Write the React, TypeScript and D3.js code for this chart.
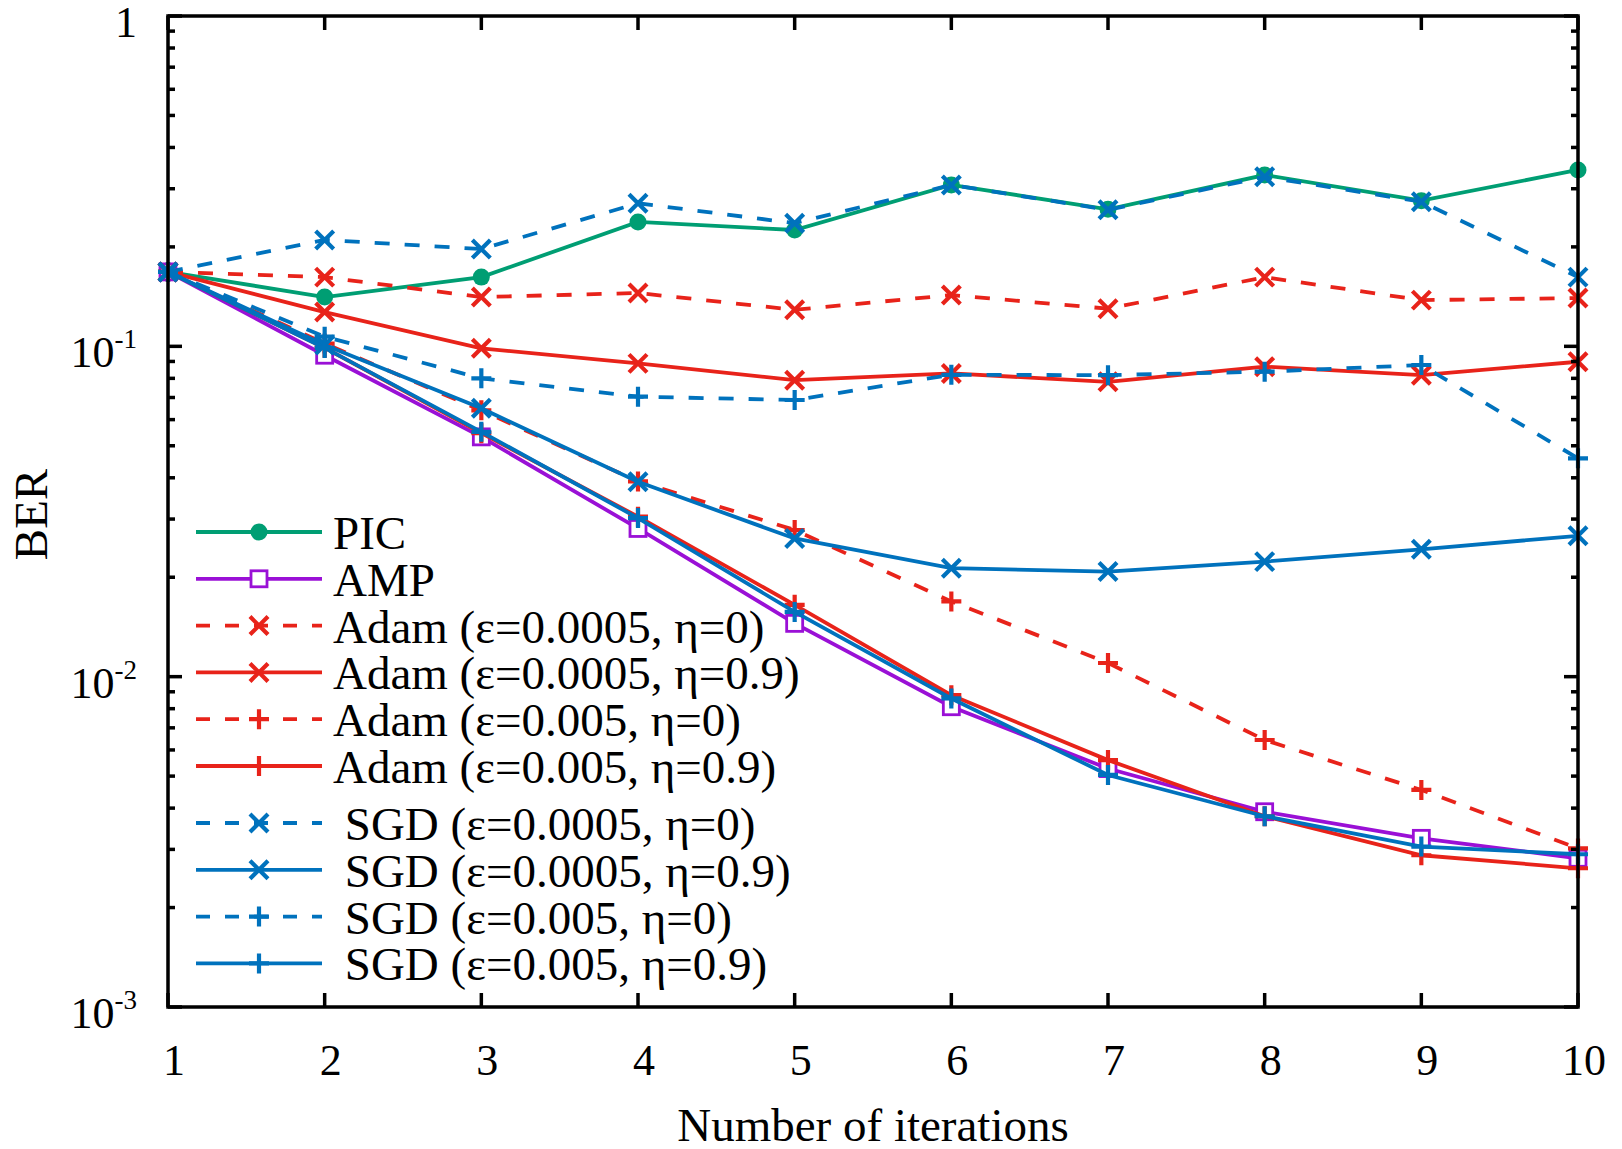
import React from 'react';
import * as d3 from 'd3';

// iteration index on the x axis
const iterations = [1, 2, 3, 4, 5, 6, 7, 8, 9, 10];

// BER values
const picBer = [0.168, 0.141, 0.162, 0.238, 0.225, 0.308, 0.26, 0.33, 0.276, 0.342];
const ampBer = [0.168, 0.094, 0.0532, 0.0281, 0.0145, 0.00811, 0.00527, 0.0039, 0.00324, 0.00282];
const adamE4Eta0 = [0.168, 0.162, 0.141, 0.145, 0.129, 0.143, 0.13, 0.162, 0.138, 0.14];
const adamE4Eta9 = [0.168, 0.127, 0.0986, 0.0888, 0.079, 0.0828, 0.0781, 0.0868, 0.0818, 0.0898];
const adamE3Eta0 = [0.168, 0.102, 0.064, 0.039, 0.0278, 0.0169, 0.011, 0.00643, 0.00454, 0.00302];
const adamE3Eta9 = [0.168, 0.099, 0.0546, 0.0305, 0.0165, 0.00879, 0.00559, 0.00378, 0.00288, 0.00263];
const sgdE4Eta0 = [0.168, 0.21, 0.197, 0.271, 0.236, 0.308, 0.259, 0.326, 0.274, 0.162];
const sgdE4Eta9 = [0.168, 0.101, 0.0649, 0.0389, 0.0262, 0.0213, 0.0208, 0.0223, 0.0243, 0.0267];
const sgdE3Eta0 = [0.168, 0.107, 0.08, 0.0704, 0.0688, 0.082, 0.0818, 0.0838, 0.0878, 0.0458];
const sgdE3Eta9 = [0.168, 0.0989, 0.0551, 0.0302, 0.0157, 0.00859, 0.00504, 0.00378, 0.00306, 0.0029];

const yTickExponents = [0, -1, -2, -3];

const GREEN = '#009e73';
const PURPLE = '#9a10d6';
const RED = '#e8231a';
const BLUE = '#0072bd';

// legend order == draw order
const series = [
  { label: 'PIC', values: picBer, color: GREEN, dashed: false, marker: 'circle' },
  { label: 'AMP', values: ampBer, color: PURPLE, dashed: false, marker: 'square' },
  { label: 'Adam (ε=0.0005, η=0)', values: adamE4Eta0, color: RED, dashed: true, marker: 'x' },
  { label: 'Adam (ε=0.0005, η=0.9)', values: adamE4Eta9, color: RED, dashed: false, marker: 'x' },
  { label: 'Adam (ε=0.005, η=0)', values: adamE3Eta0, color: RED, dashed: true, marker: 'plus' },
  { label: 'Adam (ε=0.005, η=0.9)', values: adamE3Eta9, color: RED, dashed: false, marker: 'plus' },
  { label: ' SGD (ε=0.0005, η=0)', values: sgdE4Eta0, color: BLUE, dashed: true, marker: 'x' },
  { label: ' SGD (ε=0.0005, η=0.9)', values: sgdE4Eta9, color: BLUE, dashed: false, marker: 'x' },
  { label: ' SGD (ε=0.005, η=0)', values: sgdE3Eta0, color: BLUE, dashed: true, marker: 'plus' },
  { label: ' SGD (ε=0.005, η=0.9)', values: sgdE3Eta9, color: BLUE, dashed: false, marker: 'plus' },
];

const W = 1622;
const H = 1149;
const margin = { top: 16, right: 44, bottom: 142, left: 168 };
const FONT = '"Liberation Serif", "Times New Roman", serif';
const LW = 3.8;

const Marker = ({ kind, x, y, color }) => {
  if (kind === 'circle') return <circle cx={x} cy={y} r={8.5} fill={color} />;
  if (kind === 'square')
    return <rect x={x - 8} y={y - 8} width={16} height={16} fill="#fff" stroke={color} strokeWidth={2.8} />;
  if (kind === 'x')
    return (
      <path d={`M${x - 9},${y - 9}L${x + 9},${y + 9}M${x - 9},${y + 9}L${x + 9},${y - 9}`} stroke={color} strokeWidth={4.2} />
    );
  return <path d={`M${x - 10},${y}L${x + 10},${y}M${x},${y - 10}L${x},${y + 10}`} stroke={color} strokeWidth={4.2} />;
};

const App = () => {
  const x = d3.scaleLinear().domain([1, 10]).range([margin.left, W - margin.right]);
  const y = d3.scaleLog().domain([1e-3, 1]).range([H - margin.bottom, margin.top]);
  const [x0, x1] = x.range();
  const [y0, y1] = y.range();

  const line = d3
    .line()
    .x((d) => x(d[0]))
    .y((d) => y(d[1]));

  const minor = [];
  for (let e = -3; e < 0; e++) for (let k = 2; k < 10; k++) minor.push(k * Math.pow(10, e));

  // legend rows: two groups (Adam block, SGD block)
  const legendY = (i) => (i < 6 ? 532 + i * 46.8 : 823 + (i - 6) * 46.8);

  return (
    <svg width={W} height={H} style={{ position: 'absolute', left: 0, top: 0, background: '#fff' }} fontFamily={FONT}>
      <rect width={W} height={H} fill="#fff" />

      {/* series */}
      {series.map((s) => (
        <g key={s.label}>
          <path
            d={line(iterations.map((it, i) => [it, s.values[i]]))}
            fill="none"
            stroke={s.color}
            strokeWidth={LW}
            strokeDasharray={s.dashed ? '15,15' : null}
          />
          {iterations.map((it, i) => (
            <Marker key={it} kind={s.marker} x={x(it)} y={y(s.values[i])} color={s.color} />
          ))}
        </g>
      ))}

      {/* frame + ticks */}
      <g stroke="#000" strokeWidth={3.5}>
        <rect x={x0} y={y1} width={x1 - x0} height={y0 - y1} fill="none" />
        {iterations.map((t) => (
          <g key={t}>
            <line x1={x(t)} x2={x(t)} y1={y0} y2={y0 - 14} />
            <line x1={x(t)} x2={x(t)} y1={y1} y2={y1 + 14} />
          </g>
        ))}
        {yTickExponents.map((e) => (
          <g key={e}>
            <line x1={x0} x2={x0 + 14} y1={y(Math.pow(10, e))} y2={y(Math.pow(10, e))} />
            <line x1={x1} x2={x1 - 14} y1={y(Math.pow(10, e))} y2={y(Math.pow(10, e))} />
          </g>
        ))}
        {minor.map((v) => (
          <g key={v}>
            <line x1={x0} x2={x0 + 7} y1={y(v)} y2={y(v)} />
            <line x1={x1} x2={x1 - 7} y1={y(v)} y2={y(v)} />
          </g>
        ))}
      </g>

      {/* x tick labels */}
      {iterations.map((t) => (
        <text key={t} x={x(t) + 6} y={1075} fontSize={44} textAnchor="middle" fill="#000">
          {t}
        </text>
      ))}

      {/* y tick labels */}
      {yTickExponents.map((e) => (
        <text key={e} x={137} y={y(Math.pow(10, e)) + 21} fontSize={44} textAnchor="end" fill="#000">
          {e === 0 ? (
            '1'
          ) : (
            <>
              <tspan>10</tspan>
              <tspan dy={-19} fontSize={27}>
                {e}
              </tspan>
            </>
          )}
        </text>
      ))}

      <text x={(x0 + x1) / 2} y={1141} fontSize={47} textAnchor="middle" fill="#000">
        Number of iterations
      </text>
      <text transform={`translate(47,${(y0 + y1) / 2 + 3}) rotate(-90)`} fontSize={47} textAnchor="middle" fill="#000">
        BER
      </text>

      {/* legend */}
      {series.map((s, i) => {
        const ly = legendY(i);
        return (
          <g key={s.label}>
            <line
              x1={196}
              x2={322}
              y1={ly}
              y2={ly}
              stroke={s.color}
              strokeWidth={LW}
              strokeDasharray={s.dashed ? '14,15' : null}
            />
            <Marker kind={s.marker} x={259} y={ly} color={s.color} />
            <text x={333} y={ly + 17} fontSize={47} fill="#000" xmlSpace="preserve" style={{ whiteSpace: 'pre' }}>
              {s.label}
            </text>
          </g>
        );
      })}
    </svg>
  );
};

export default App;
